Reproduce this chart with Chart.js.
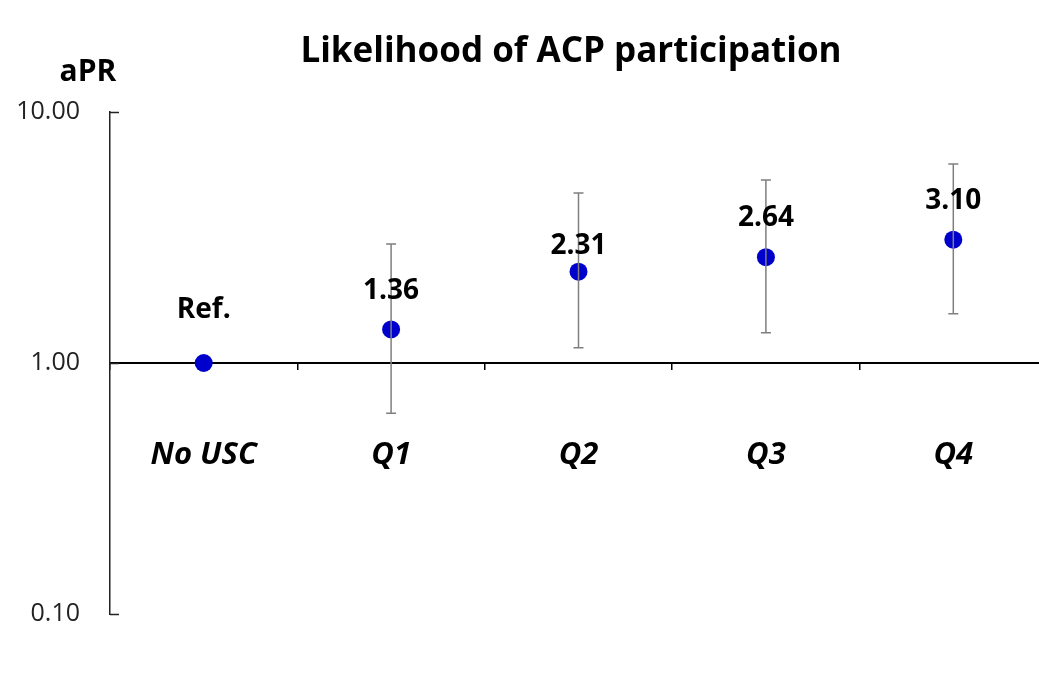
<!DOCTYPE html>
<html>
<head>
<meta charset="utf-8">
<script src="https://cdn.jsdelivr.net/npm/chart.js@4/dist/chart.umd.min.js"></script>
<style>
  body { margin: 0; background: #fff; overflow: hidden; }
</style>
</head>
<body>
<canvas id="aprChart" width="1056" height="687"></canvas>
<script>
// categories and values
const groups = ['No USC', 'Q1', 'Q2', 'Q3', 'Q4'];
const aprValues = [1.00, 1.36, 2.31, 2.64, 3.10];
const ciLower = [null, 0.63, 1.15, 1.32, 1.57];
const ciUpper = [null, 2.98, 4.76, 5.36, 6.21];
const pointLabels = ['Ref.', '1.36', '2.31', '2.64', '3.10'];
const yTicks = [0.1, 1, 10];

// how far above the point each label sits (px)
const labelLift = [53, 38, 26, 39, 39];

const FONT = "'Open Sans', 'DejaVu Sans', sans-serif";

// error bars with caps
const errorBars = {
  id: 'errorBars',
  afterDatasetsDraw(chart) {
    const ctx = chart.ctx;
    const x = chart.scales.x, y = chart.scales.y;
    ctx.save();
    ctx.strokeStyle = '#7f7f7f';
    ctx.lineWidth = 1.5;
    groups.forEach((g, i) => {
      if (ciLower[i] == null) return;
      const px = x.getPixelForValue(i);
      const top = y.getPixelForValue(ciUpper[i]);
      const bot = y.getPixelForValue(ciLower[i]);
      ctx.beginPath();
      ctx.moveTo(px, top); ctx.lineTo(px, bot);
      ctx.moveTo(px - 5, top); ctx.lineTo(px + 5, top);
      ctx.moveTo(px - 5, bot); ctx.lineTo(px + 5, bot);
      ctx.stroke();
    });
    ctx.restore();
  }
};

// point labels, titles and inner y ticks
const decorations = {
  id: 'decorations',
  afterDraw(chart) {
    const ctx = chart.ctx;
    const x = chart.scales.x, y = chart.scales.y;
    const area = chart.chartArea;
    ctx.save();
    // inward tick marks on y axis
    ctx.strokeStyle = '#222';
    ctx.lineWidth = 1.5;
    y.ticks.forEach(t => {
      const py = Math.round(y.getPixelForValue(t.value)) + 0.5;
      ctx.beginPath();
      ctx.moveTo(area.left, py);
      ctx.lineTo(area.left + 9, py);
      ctx.stroke();
    });
    // value labels
    ctx.fillStyle = '#000';
    ctx.textAlign = 'center';
    ctx.textBaseline = 'middle';
    ctx.font = 'bold 28px ' + FONT;
    pointLabels.forEach((txt, i) => {
      const px = x.getPixelForValue(i);
      const py = y.getPixelForValue(aprValues[i]);
      ctx.fillText(txt, px, py - labelLift[i]);
    });
    // title and axis caption
    ctx.font = 'bold 35px ' + FONT;
    ctx.fillText('Likelihood of ACP participation', 571, 52);
    ctx.font = 'bold 30px ' + FONT;
    ctx.fillText('aPR', 88, 72);
    ctx.restore();
  }
};

const ctx = document.getElementById('aprChart').getContext('2d');
new Chart(ctx, {
  type: 'line',
  data: {
    labels: groups,
    datasets: [{
      data: aprValues,
      showLine: false,
      pointRadius: 9,
      pointHoverRadius: 9,
      pointBackgroundColor: '#0000cc',
      pointBorderColor: '#0000cc',
      pointBorderWidth: 0
    }]
  },
  options: {
    responsive: false,
    animation: false,
    layout: { padding: { top: 112, bottom: 73, left: 0, right: 0 } },
    plugins: {
      legend: { display: false },
      tooltip: { enabled: false },
      title: { display: false }
    },
    scales: {
      x: {
        type: 'category',
        position: { y: 1 },
        offset: true,
        afterFit: s => { s.height = 0; },
        grid: {
          offset: true,
          drawOnChartArea: false,
          drawTicks: true,
          tickLength: 6,
          color: '#000',
          lineWidth: 1.5
        },
        border: { display: true, color: '#000', width: 2 },
        ticks: {
          padding: 68,
          color: '#000',
          font: { family: FONT, size: 31, weight: 'bold', style: 'italic' }
        }
      },
      y: {
        type: 'logarithmic',
        min: 0.1,
        max: 10,
        afterBuildTicks: s => { s.ticks = yTicks.map(v => ({ value: v })); },
        afterFit: s => { s.width = 110; },
        grid: { display: false, drawTicks: false },
        border: { display: true, color: '#222', width: 1.5 },
        ticks: {
          padding: 30,
          color: '#222',
          font: { family: FONT, size: 25 },
          callback: v => Number(v).toFixed(2)
        }
      }
    }
  },
  plugins: [errorBars, decorations]
});
</script>
</body>
</html>
